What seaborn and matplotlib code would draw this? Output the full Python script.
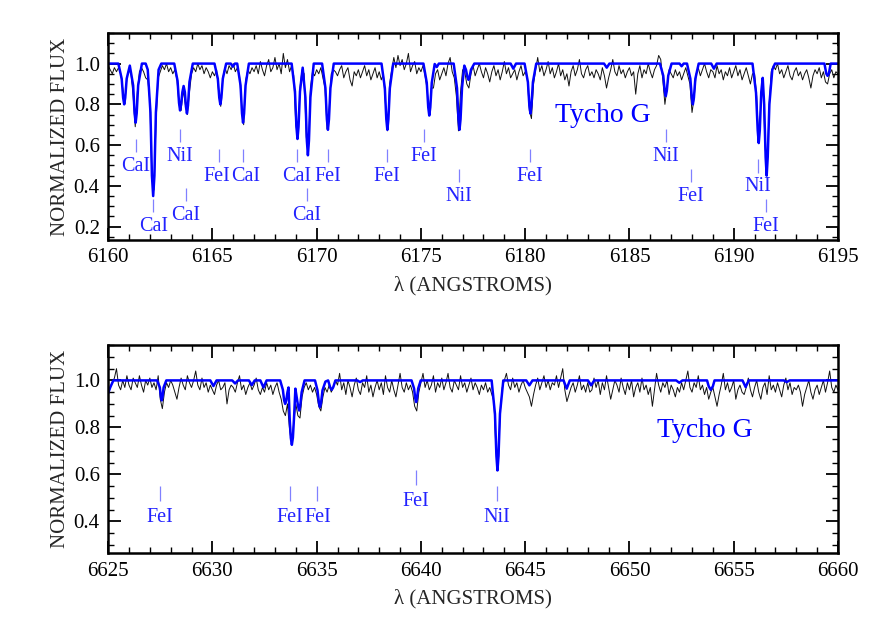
import matplotlib
matplotlib.use("Agg")
import matplotlib.pyplot as plt
import numpy as np
import seaborn as sns
from matplotlib.ticker import MultipleLocator

top_obs_start = 6160.0
top_obs_flux = [
    0.99, 0.97, 0.95, 0.98, 0.96, 0.98, 0.95, 0.88, 0.80, 0.93,
    0.97, 0.95, 0.84, 0.69, 0.86, 0.96, 0.98, 0.96, 0.93, 0.92,
    0.82, 0.43, 0.38, 0.72, 0.93, 0.96, 0.99, 0.97, 1.00, 0.96,
    0.98, 0.95, 0.97, 0.92, 0.80, 0.77, 0.87, 0.80, 0.75, 0.86,
    0.95, 0.98, 0.96, 1.00, 0.97, 0.99, 0.95, 0.98, 0.96, 0.93,
    0.96, 0.94, 0.97, 0.86, 0.79, 0.93, 0.98, 0.95, 0.99, 0.97,
    1.00, 0.96, 0.98, 0.94, 0.80, 0.70, 0.92, 0.97, 0.95, 0.98,
    0.96, 0.99, 0.95, 1.01, 0.97, 0.94, 0.99, 1.02, 0.96, 0.98,
    1.03, 0.97, 1.00, 0.95, 1.05, 0.98, 1.02, 0.96, 0.99, 0.94,
    0.70, 0.64, 0.88, 0.97, 0.95, 0.64, 0.56, 0.88, 0.96, 0.94,
    0.97, 0.95, 0.98, 0.93, 0.88, 0.68, 0.78, 0.95, 0.97, 0.96,
    0.94, 0.97, 0.99, 0.93, 0.96, 0.98, 0.92, 0.89, 0.96, 0.94,
    0.97, 0.93, 0.96, 0.99, 0.94, 0.97, 0.92, 0.95, 0.98, 0.93,
    0.96, 0.92, 0.95, 0.80, 0.67, 0.90, 0.97, 1.03, 0.98, 1.04,
    0.99, 1.02, 0.97, 1.00, 1.05, 0.96, 0.99, 1.01, 0.95, 0.98,
    0.96, 0.99, 0.94, 0.87, 0.75, 0.88, 0.88, 0.95, 0.97, 0.92,
    0.95, 0.98, 0.94, 1.00, 1.03, 0.96, 0.93, 0.84, 0.67, 0.86,
    0.97, 0.96, 0.90, 0.88, 0.95, 0.99, 0.94, 0.97, 1.00, 0.96,
    0.93, 0.98, 0.95, 0.91, 0.96, 0.99, 0.94, 0.97, 0.92, 0.96,
    1.01, 0.95, 0.98, 0.93, 0.95, 0.97, 0.92, 0.96, 0.99, 0.94,
    0.96, 0.93, 0.77, 0.73, 0.90, 0.97, 1.03, 0.96, 0.99, 0.94,
    0.97, 1.01, 0.95, 0.98, 0.93, 0.96, 1.00, 0.94, 0.97, 0.92,
    0.95, 0.89, 0.96, 0.99, 0.94, 0.97, 1.02, 0.95, 0.93, 0.97,
    0.99, 0.94, 0.96, 0.93, 0.97, 0.95, 0.92, 0.98, 0.94, 0.88,
    0.93, 0.97, 1.02, 0.96, 0.94, 0.99, 0.95, 0.97, 0.93, 0.96,
    0.98, 0.94, 0.96, 0.85, 0.95, 0.99, 0.93, 0.97, 0.95, 1.00,
    0.96, 0.93, 0.97, 0.99, 1.04, 1.02, 0.92, 0.80, 0.88, 0.97,
    0.95, 0.93, 0.97, 0.94, 0.96, 0.92, 0.95, 0.98, 0.94, 0.90,
    0.76, 0.83, 0.95, 0.98, 0.94, 0.97, 1.00, 0.96, 0.93, 0.97,
    0.96, 0.93, 0.99, 0.95, 0.97, 0.92, 0.96, 0.94, 0.98, 0.93,
    0.96, 0.99, 0.94, 0.97, 0.92, 0.95, 0.98, 0.94, 0.90, 0.95,
    0.95, 0.84, 0.61, 0.80, 0.91, 0.60, 0.46, 0.80, 0.96, 0.99,
    0.97, 1.00, 0.95, 0.97, 0.93, 0.96, 0.99, 0.94, 0.92, 0.96,
    0.98, 0.94, 0.96, 0.92, 0.95, 0.97, 0.93, 0.88, 0.94, 0.97,
    0.95, 0.98, 0.93, 0.96, 0.91, 0.90, 0.95, 0.97, 0.93, 0.96,
    0.95,
]

bot_obs_start = 6625.0
bot_obs_flux = [
    0.95, 0.97, 0.99, 1.01, 1.05, 0.98, 0.96, 1.00, 0.97, 1.02,
    0.98, 0.96, 1.01, 0.99, 0.97, 1.02, 0.98, 0.95, 1.00, 0.98,
    1.01, 0.97, 0.99, 0.96, 1.02, 0.92, 0.88, 0.95, 0.99, 0.97,
    1.00, 0.98, 0.95, 0.92, 0.97, 1.01, 0.98, 0.96, 1.02, 0.99,
    0.97, 1.00, 1.04, 0.98, 0.96, 1.01, 0.97, 0.99, 0.95, 0.98,
    0.96, 0.94, 0.98, 1.00, 0.96, 0.97, 0.99, 0.90, 0.96, 0.98,
    0.97, 0.95, 0.99, 1.02, 0.96, 0.98, 0.94, 0.97, 0.99, 0.96,
    0.98, 1.01, 0.96, 0.94, 0.97, 0.95, 0.99, 0.96, 0.98, 0.94,
    0.97, 0.99, 0.95, 0.92, 0.87, 0.85, 0.90, 0.79, 0.73, 0.82,
    0.90, 0.85, 0.84, 0.93, 0.97, 0.99, 0.96, 0.98, 0.95, 0.97,
    0.94, 0.89, 0.87, 0.93, 0.97, 0.95, 0.98, 0.95, 0.97, 1.00,
    0.98, 1.03, 0.96, 0.99, 0.94, 1.00, 0.97, 0.93, 0.98, 1.01,
    0.96, 0.94, 0.99, 0.97, 1.02, 0.95, 0.98, 0.93, 0.97, 1.00,
    0.96, 0.99, 0.94, 1.02, 0.97, 0.95, 1.00, 0.96, 0.93, 0.98,
    1.03, 0.97, 0.95, 0.99, 0.96, 0.98, 0.95, 0.89, 0.87, 0.95,
    0.99, 1.03, 0.97, 1.00, 0.96, 0.98, 1.02, 0.95, 0.99, 0.97,
    1.01, 0.96, 0.99, 1.03, 0.97, 0.95, 1.00, 0.98, 0.96, 1.02,
    0.97, 0.99, 0.95, 0.98, 1.01, 0.96, 0.99, 0.97, 0.94, 0.98,
    0.96, 0.99, 0.95, 0.97, 0.94, 0.91, 0.70, 0.62, 0.86, 0.97,
    1.00, 1.03, 0.98, 0.96, 1.01, 0.97, 0.99, 0.95, 0.98, 1.00,
    0.97, 0.95, 0.93, 0.89, 0.94, 0.98, 1.01, 0.96, 0.99, 1.02,
    0.97, 1.00, 0.96, 0.99, 0.98, 1.02, 0.97, 1.01, 1.05, 0.96,
    0.91, 0.94, 0.97, 0.99, 0.95, 0.98, 1.02, 0.96, 0.98, 0.95,
    0.99, 0.95, 0.96, 1.01, 0.97, 1.00, 0.94, 0.99, 0.96, 1.02,
    0.97, 0.92, 0.96, 1.00, 0.98, 0.95, 1.01, 0.97, 0.94, 0.99,
    0.96, 1.00, 0.93, 0.97, 0.99, 0.95, 1.01, 0.96, 0.98, 0.94,
    0.97, 0.89, 0.96, 1.03, 0.98, 0.95, 0.99, 0.97, 1.00, 0.94,
    0.98, 0.96, 0.93, 0.97, 0.95, 0.99, 0.96, 1.00, 1.04, 0.97,
    0.95, 0.99, 0.97, 1.02, 0.96, 0.98, 0.94, 0.97, 0.92, 0.95,
    0.97, 0.93, 0.89, 0.94, 0.98, 1.03, 0.96, 0.99, 0.95, 0.97,
    1.00, 0.92, 0.96, 0.98, 0.95, 0.94, 0.97, 1.01, 0.96, 0.93,
    0.97, 1.00, 0.95, 0.92, 0.97, 0.99, 0.94, 1.02, 0.96, 0.98,
    0.95, 0.99, 0.96, 0.93, 0.98, 1.01, 0.96, 0.99, 0.94, 0.97,
    0.96, 0.98, 0.95, 0.89, 0.94, 0.97, 1.00, 0.95, 0.92, 0.96,
    0.98, 0.94, 0.97, 1.00, 0.95, 0.99, 1.04, 0.97, 0.95, 0.98,
    0.96,
]

# synthetic spectra: vertices
top_model_wave = [
    6160.00,
    6160.49, 6160.65, 6160.72, 6160.77, 6160.82, 6160.89, 6161.04,
    6161.20, 6161.27, 6161.32, 6161.37, 6161.44, 6161.62,
    6161.80, 6161.90, 6162.03, 6162.10, 6162.16, 6162.22, 6162.29, 6162.42, 6162.55,
    6163.17, 6163.33, 6163.40, 6163.45, 6163.50, 6163.56, 6163.62,
    6163.68, 6163.73, 6163.78, 6163.83, 6163.90, 6164.06,
    6165.10, 6165.26, 6165.33, 6165.38, 6165.43, 6165.50, 6165.66,
    6165.88, 6165.98, 6166.08,
    6166.19, 6166.35, 6166.42, 6166.47, 6166.52, 6166.59, 6166.75,
    6168.80, 6168.96, 6169.03, 6169.08, 6169.13, 6169.20, 6169.33,
    6169.46, 6169.53, 6169.58, 6169.63, 6169.70, 6169.86,
    6170.26, 6170.42, 6170.49, 6170.54, 6170.59, 6170.66, 6170.82,
    6173.11, 6173.27, 6173.34, 6173.39, 6173.44, 6173.51, 6173.67,
    6175.12, 6175.28, 6175.35, 6175.40, 6175.45, 6175.52, 6175.66,
    6175.76, 6175.86,
    6176.57, 6176.73, 6176.80, 6176.85, 6176.90, 6176.97, 6177.08,
    6177.16, 6177.23, 6177.28, 6177.33, 6177.40, 6177.56,
    6179.30, 6179.43, 6179.56,
    6179.97, 6180.13, 6180.20, 6180.25, 6180.30, 6180.37, 6180.53,
    6183.78, 6183.91, 6184.04,
    6186.46, 6186.62, 6186.69, 6186.74, 6186.79, 6186.86, 6187.02,
    6187.40, 6187.50, 6187.60,
    6187.76, 6187.92, 6187.99, 6188.04, 6188.09, 6188.16, 6188.32,
    6188.92, 6189.05, 6189.18,
    6190.90, 6191.07, 6191.15, 6191.20, 6191.25, 6191.32, 6191.39,
    6191.46, 6191.53, 6191.58, 6191.63, 6191.71, 6191.85, 6191.98,
    6194.35, 6194.44, 6194.50, 6194.56, 6194.65,
    6195.00,
]
top_model_flux = [
    1.000,
    1.000, 0.926, 0.832, 0.800, 0.832, 0.926, 0.990,
    0.893, 0.756, 0.710, 0.756, 0.893, 1.000,
    1.000, 0.970, 0.760, 0.450, 0.350, 0.450, 0.760, 0.970, 1.000,
    1.000, 0.915, 0.807, 0.770, 0.800, 0.860, 0.890,
    0.860, 0.790, 0.755, 0.795, 0.910, 1.000,
    1.000, 0.926, 0.832, 0.800, 0.832, 0.926, 1.000,
    1.000, 0.985, 1.000,
    1.000, 0.893, 0.756, 0.710, 0.756, 0.893, 1.000,
    1.000, 0.863, 0.689, 0.630, 0.689, 0.863, 0.980,
    0.834, 0.622, 0.550, 0.622, 0.834, 1.000,
    1.000, 0.880, 0.727, 0.675, 0.727, 0.880, 1.000,
    1.000, 0.880, 0.727, 0.675, 0.727, 0.880, 1.000,
    1.000, 0.906, 0.786, 0.745, 0.786, 0.906, 0.998,
    0.983, 1.000,
    1.000, 0.880, 0.727, 0.675, 0.727, 0.880, 0.990,
    0.970, 0.933, 0.920, 0.933, 0.970, 1.000,
    1.000, 0.975, 1.000,
    1.000, 0.909, 0.794, 0.755, 0.794, 0.909, 1.000,
    1.000, 0.980, 1.000,
    1.000, 0.941, 0.866, 0.840, 0.866, 0.941, 1.000,
    1.000, 0.987, 1.000,
    1.000, 0.926, 0.832, 0.800, 0.832, 0.926, 1.000,
    1.000, 0.975, 1.000,
    1.000, 0.856, 0.672, 0.610, 0.672, 0.860, 0.930,
    0.800, 0.540, 0.450, 0.540, 0.800, 0.970, 1.000,
    1.000, 0.950, 0.940, 0.950, 1.000,
    1.000,
]

bot_model_wave = [
    6625.00, 6625.10, 6625.25,
    6627.35, 6627.48, 6627.53, 6627.57, 6627.61, 6627.66, 6627.79,
    6629.90, 6630.05, 6630.20,
    6630.95, 6631.09, 6631.23,
    6631.75, 6631.89, 6632.03,
    6632.30, 6632.45, 6632.60,
    6633.25, 6633.38, 6633.44, 6633.49, 6633.54, 6633.60, 6633.65,
    6633.71, 6633.76, 6633.81, 6633.86, 6633.92, 6633.98,
    6634.04, 6634.11, 6634.16, 6634.21, 6634.28, 6634.42,
    6634.92, 6635.04, 6635.11, 6635.16, 6635.21, 6635.28, 6635.42,
    6635.55, 6635.65, 6635.72, 6635.79, 6635.90,
    6636.95, 6637.08, 6637.21,
    6639.55, 6639.67, 6639.73, 6639.77, 6639.81, 6639.87, 6639.99,
    6643.39, 6643.55, 6643.62, 6643.67, 6643.72, 6643.79, 6643.95,
    6645.05, 6645.20, 6645.35,
    6646.84, 6646.99, 6647.14,
    6648.01, 6648.16, 6648.31,
    6652.24, 6652.39, 6652.54,
    6653.72, 6653.80, 6653.90, 6654.00, 6654.08,
    6655.42, 6655.57, 6655.72,
    6657.40, 6657.54, 6657.68,
    6660.00,
]
bot_model_flux = [
    0.945, 0.970, 1.000,
    1.000, 0.970, 0.930, 0.915, 0.930, 0.970, 1.000,
    1.000, 0.976, 1.000,
    1.000, 0.987, 1.000,
    1.000, 0.980, 1.000,
    1.000, 0.970, 1.000,
    1.000, 0.960, 0.915, 0.900, 0.915, 0.950, 0.970,
    0.830, 0.756, 0.726, 0.756, 0.850, 0.965,
    0.930, 0.890, 0.872, 0.890, 0.950, 1.000,
    1.000, 0.958, 0.904, 0.886, 0.904, 0.958, 0.995,
    1.000, 0.970, 0.960, 0.970, 1.000,
    1.000, 0.993, 1.000,
    1.000, 0.966, 0.923, 0.908, 0.923, 0.966, 1.000,
    1.000, 0.858, 0.678, 0.617, 0.678, 0.858, 1.000,
    1.000, 0.979, 1.000,
    1.000, 0.965, 1.000,
    1.000, 0.979, 1.000,
    1.000, 0.990, 1.000,
    1.000, 0.975, 0.960, 0.975, 1.000,
    1.000, 0.972, 1.000,
    1.000, 0.993, 1.000,
    1.000,
]

# line identifications: tick wavelength, text wavelength, name, label height
top_id_wave = [6161.34, 6162.16, 6163.45, 6163.74, 6165.32, 6166.47, 6169.06,
               6169.54, 6170.55, 6173.37, 6175.15, 6176.83, 6180.23, 6186.75,
               6187.95, 6191.16, 6191.55]
top_id_text_wave = [6161.34, 6162.16, 6163.45, 6163.74, 6165.22, 6166.57, 6169.06,
                    6169.54, 6170.55, 6173.37, 6175.15, 6176.83, 6180.23, 6186.75,
                    6187.95, 6191.16, 6191.55]
top_id_name = ["CaI", "CaI", "NiI", "CaI", "FeI", "CaI", "CaI",
               "CaI", "FeI", "FeI", "FeI", "NiI", "FeI", "NiI",
               "FeI", "NiI", "FeI"]
top_id_y = [0.495, 0.20, 0.545, 0.255, 0.445, 0.445, 0.445,
            0.255, 0.445, 0.445, 0.545, 0.35, 0.445, 0.545,
            0.35, 0.395, 0.20]

bot_id_wave = [6627.50, 6633.73, 6635.02, 6639.77, 6643.65]
bot_id_text_wave = [6627.50, 6633.70, 6635.05, 6639.77, 6643.65]
bot_id_name = ["FeI", "FeI", "FeI", "FeI", "NiI"]
bot_id_y = [0.415, 0.415, 0.415, 0.485, 0.415]

BLUE = "#0000ff"
LABEL_BLUE = "#2222ff"

sns.set_style("ticks")
plt.rcParams["font.family"] = ["Liberation Serif", "DejaVu Serif"]


def draw_panel(ax, obs_start, obs_flux, model_wave, model_flux,
               id_wave, id_text_wave, id_name, id_y, xlim, ylim, tycho_xy):
    obs_wave = obs_start + 0.1 * np.arange(len(obs_flux))
    sns.lineplot(x=obs_wave, y=obs_flux, ax=ax, color="#111111",
                 linewidth=0.7, estimator=None)
    sns.lineplot(x=model_wave, y=model_flux, ax=ax, color=BLUE,
                 linewidth=1.8, estimator=None)

    for w, tw, name, y in zip(id_wave, id_text_wave, id_name, id_y):
        ax.vlines(w, y + 0.07, y + 0.135, color="#8080ff", linewidth=0.9)
        ax.text(tw, y, name, color=LABEL_BLUE, fontsize=14.5,
                ha="center", va="center")

    ax.text(tycho_xy[0], tycho_xy[1], "Tycho G", color=BLUE, fontsize=20,
            ha="center", va="center")

    ax.set_xlim(*xlim)
    ax.set_ylim(*ylim)
    ax.xaxis.set_major_locator(MultipleLocator(5))
    ax.xaxis.set_minor_locator(MultipleLocator(1))
    ax.yaxis.set_major_locator(MultipleLocator(0.2))
    ax.yaxis.set_minor_locator(MultipleLocator(0.05))
    ax.yaxis.set_major_formatter(matplotlib.ticker.FormatStrFormatter("%.1f"))
    ax.tick_params(which="both", direction="in", top=True, right=True,
                   labelsize=15, colors="black")
    ax.tick_params(which="major", length=9, width=1.3, pad=6)
    ax.tick_params(which="minor", length=4.5, width=1.0)
    for sp in ax.spines.values():
        sp.set_linewidth(1.8)
        sp.set_color("black")
    ax.set_xlabel("λ (ANGSTROMS)", fontsize=15, labelpad=6)
    ax.set_ylabel("NORMALIZED FLUX", fontsize=15, labelpad=3)


fig = plt.figure(figsize=(8.72, 6.23), dpi=100)
ax_top = fig.add_axes([0.124, 0.615, 0.837, 0.332])
ax_bot = fig.add_axes([0.124, 0.112, 0.837, 0.334])

draw_panel(ax_top, top_obs_start, top_obs_flux, top_model_wave, top_model_flux,
           top_id_wave, top_id_text_wave, top_id_name, top_id_y,
           (6160, 6195), (0.135, 1.15), (6183.7, 0.745))
draw_panel(ax_bot, bot_obs_start, bot_obs_flux, bot_model_wave, bot_model_flux,
           bot_id_wave, bot_id_text_wave, bot_id_name, bot_id_y,
           (6625, 6660), (0.265, 1.15), (6653.6, 0.785))

fig.savefig("out.png", dpi=100)
